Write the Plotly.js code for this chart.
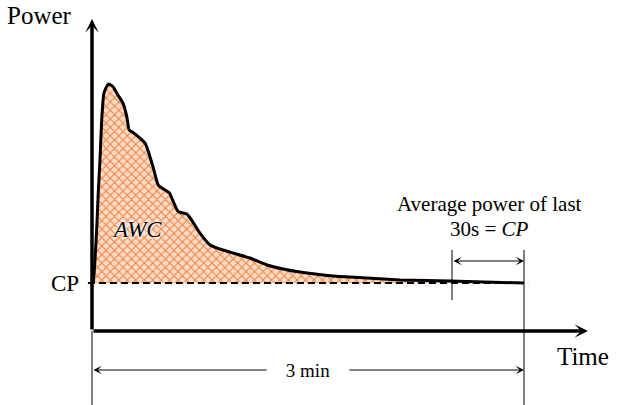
<!DOCTYPE html>
<html>
<head>
<meta charset="utf-8">
<script src="https://cdn.plot.ly/plotly-3.0.1.min.js"></script>
<style>html,body{margin:0;padding:0;background:#fff;}#chart{width:628px;height:405px;}</style>
</head>
<body>
<div id="chart"></div>
<script>
// ---- data (time in s, power in W; schematic values) ----
const timeS = [0, 0.5, 1.25, 2.0, 2.6, 3.33, 4.04, 5.0, 6.8, 8.75, 10.8, 12.9, 14.5, 15.5, 17.2, 20.0, 22.1, 23.5, 25.4, 27.6, 29.7, 32.2, 33.9, 36.0, 39.5, 41.5, 45.0, 49.2, 53.3, 58.75, 65.8, 72.9, 79.6, 86.7, 100.4, 114.6, 128.3, 149.2, 180];
const powerW = [250, 257, 370, 543, 719, 891, 1099, 1240, 1286, 1272, 1229, 1187, 1116, 1047, 1033, 1005, 979, 934, 856, 760, 740, 720, 673, 621, 609, 578, 510, 448, 427, 406, 380, 344, 323, 307, 286, 276, 266, 260, 250];
const cpW = 250;
const testEnd = 180;       // 3 min
const lastWindow = 30;     // last 30 s
const labels = {
  y: "Power", x: "Time", cp: "CP", awc: "AWC",
  avg1: "Average power of last", avg2: "30s = <i>CP</i>", dur: "3 min"
};

// ---- scale set-up: margins 0, plot area = full figure ----
const W = 628, H = 405;
const pxPerS = 2.4, wPerPx = 250 / 48;
const x0px = 92, y0px = 331;
const xr = [-x0px / pxPerS, (W - x0px) / pxPerS];
const yr = [-(H - y0px) * wPerPx, y0px * wPerPx];
const xTip = (588 - x0px) / pxPerS;
const yTip = (y0px - 19) * wPerPx;

const serif = "Liberation Serif, Times New Roman, serif";

const traces = [
  { x: [0, testEnd], y: [cpW, cpW], mode: 'lines', line: { width: 0, color: 'rgba(0,0,0,0)' }, hoverinfo: 'skip', showlegend: false },
  { x: timeS, y: powerW, mode: 'lines', fill: 'tonexty',
    fillcolor: '#fcd9c2',
    fillpattern: { shape: 'x', fgcolor: '#ee8040', bgcolor: '#fddcc6', size: 6, solidity: 0.3 },
    line: { color: '#000', width: 3, shape: 'spline', smoothing: 0.5 }, showlegend: false, hoverinfo: 'skip' },
  { x: [-1.7, testEnd + 1.7], y: [cpW, cpW], mode: 'lines', line: { color: '#000', width: 2, dash: '7px,4px' }, showlegend: false, hoverinfo: 'skip' }
];

const ann = [];
// axes as arrows
ann.push({ x: xTip, y: 0, ax: 0, ay: 0, axref: 'x', ayref: 'y', xref: 'x', yref: 'y', text: '', showarrow: true, arrowhead: 3, arrowsize: 0.65, arrowwidth: 3.5, arrowcolor: '#000' });
ann.push({ x: 0, y: yTip, ax: 0, ay: 0, axref: 'x', ayref: 'y', xref: 'x', yref: 'y', text: '', showarrow: true, arrowhead: 3, arrowsize: 0.65, arrowwidth: 3.5, arrowcolor: '#000' });
// dimension arrows
const durY = (y0px - 370) * wPerPx;
ann.push({ x: testEnd, y: durY, ax: 0, ay: durY, axref: 'x', ayref: 'y', text: '', showarrow: true, arrowhead: 3, startarrowhead: 3, arrowside: 'end+start', arrowsize: 1.4, startarrowsize: 1.4, arrowwidth: 1, arrowcolor: '#000' });
const winY = (y0px - 261) * wPerPx;
ann.push({ x: testEnd, y: winY, ax: testEnd - lastWindow, ay: winY, axref: 'x', ayref: 'y', text: '', showarrow: true, arrowhead: 3, startarrowhead: 3, arrowside: 'end+start', arrowsize: 1.4, startarrowsize: 1.4, arrowwidth: 1, arrowcolor: '#000' });
// texts
ann.push({ x: testEnd / 2, y: durY, text: labels.dur, showarrow: false, bgcolor: '#fff', borderpad: 0, xanchor: 'center', yanchor: 'middle', font: { family: serif, size: 19, color: '#000' }, width: 82 });
ann.push({ x: (39 - x0px) / pxPerS, y: (y0px - 15) * wPerPx, text: labels.y, showarrow: false, font: { family: serif, size: 25, color: '#000' } });
ann.push({ x: (583 - x0px) / pxPerS, y: (y0px - 356) * wPerPx, text: labels.x, showarrow: false, font: { family: serif, size: 25, color: '#000' } });
ann.push({ x: -4.5, y: cpW, text: labels.cp, showarrow: false, xanchor: 'right', yanchor: 'middle', font: { family: serif, size: 23, color: '#000' } });
ann.push({ x: (137 - x0px) / pxPerS, y: (y0px - 229) * wPerPx, text: '<i>' + labels.awc + '</i>', showarrow: false, font: { family: serif, size: 23, color: '#000', shadow: '0 0 3px #fff, 0 0 3px #fff, 0 0 2px #fff' } });
ann.push({ x: (489 - x0px) / pxPerS, y: (y0px - 204) * wPerPx, text: labels.avg1, showarrow: false, font: { family: serif, size: 21, color: '#000' } });
ann.push({ x: (489 - x0px) / pxPerS, y: (y0px - 229) * wPerPx, text: labels.avg2, showarrow: false, font: { family: serif, size: 21, color: '#000' } });

const shapes = [
  { type: 'line', xref: 'x', yref: 'y', x0: 0, x1: 0, y0: 0, y1: yr[0], line: { color: '#000', width: 1 } },
  { type: 'line', xref: 'x', yref: 'y', x0: testEnd, x1: testEnd, y0: (y0px - 250) * wPerPx, y1: yr[0], line: { color: '#000', width: 1 } },
  { type: 'line', xref: 'x', yref: 'y', x0: testEnd - lastWindow, x1: testEnd - lastWindow, y0: (y0px - 250) * wPerPx, y1: (y0px - 300) * wPerPx, line: { color: '#000', width: 1 } }
];

const layout = {
  width: W, height: H,
  margin: { l: 0, r: 0, t: 0, b: 0 },
  paper_bgcolor: '#fff', plot_bgcolor: '#fff',
  xaxis: { range: xr, visible: false, showgrid: false, zeroline: false, fixedrange: true },
  yaxis: { range: yr, visible: false, showgrid: false, zeroline: false, fixedrange: true },
  annotations: ann, shapes: shapes, showlegend: false
};
Plotly.newPlot('chart', traces, layout, { displayModeBar: false, staticPlot: true });
</script>
</body>
</html>
